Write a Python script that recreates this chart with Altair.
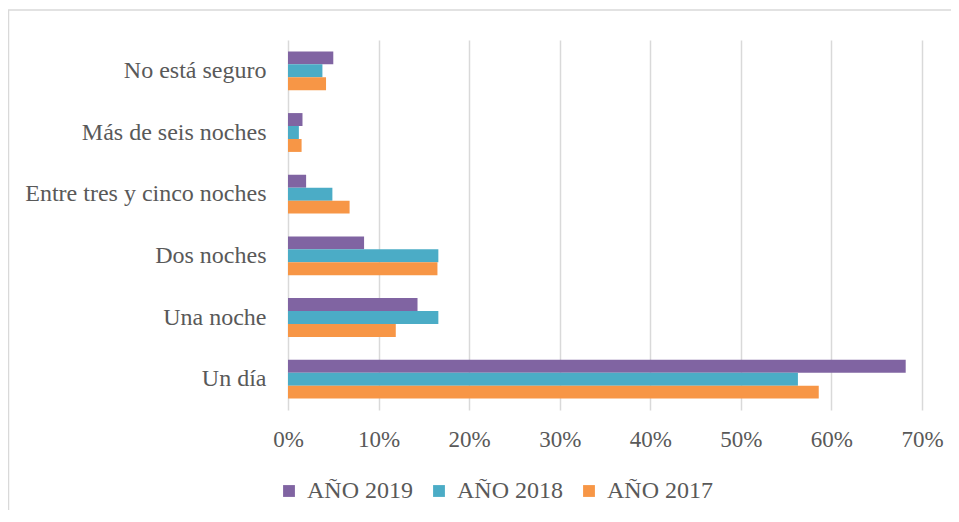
import altair as alt
import pandas as pd

categories = ["No está seguro", "Más de seis noches", "Entre tres y cinco noches",
              "Dos noches", "Una noche", "Un día"]
years = ["AÑO 2019", "AÑO 2018", "AÑO 2017"]
colors = ["#8064A2", "#4BACC6", "#F79646"]

v2019 = [0.050, 0.016, 0.020, 0.084, 0.143, 0.682]
v2018 = [0.038, 0.012, 0.049, 0.166, 0.166, 0.563]
v2017 = [0.042, 0.015, 0.068, 0.165, 0.119, 0.586]

x_ticks = [0, 0.1, 0.2, 0.3, 0.4, 0.5, 0.6, 0.7]

rows = []
for yr, vals in zip(years, [v2019, v2018, v2017]):
    for c, v in zip(categories, vals):
        rows.append({"cat": c, "year": yr, "value": v})
df = pd.DataFrame(rows)

W, H = 634, 370
FONT = "Liberation Serif"
TXT = "#595959"

bars = alt.Chart(df).mark_bar().encode(
    y=alt.Y("cat:N", sort=categories, title=None,
            scale=alt.Scale(paddingInner=0.37, paddingOuter=0.185),
            axis=alt.Axis(ticks=False, domain=False, labelPadding=22,
                          labelFont=FONT, labelFontSize=24, labelColor=TXT,
                          labelLimit=400)),
    yOffset=alt.YOffset("year:N", sort=years,
                        scale=alt.Scale(paddingInner=0, paddingOuter=0)),
    x=alt.X("value:Q", title=None,
            scale=alt.Scale(domain=[0, 0.7], nice=False),
            axis=alt.Axis(values=x_ticks, format=".0%", ticks=False, domain=False,
                          grid=True, gridColor="#d9d9d9", gridWidth=1.5,
                          labelFlush=False, labelOverlap=False,
                          labelPadding=18, labelFont=FONT, labelFontSize=23,
                          labelColor=TXT)),
    color=alt.Color("year:N", sort=years,
                    scale=alt.Scale(domain=years, range=colors),
                    legend=alt.Legend(title=None, orient="none", direction="horizontal",
                                      legendX=-11, legendY=439, padding=0,
                                      symbolType="square", symbolSize=140,
                                      symbolStrokeWidth=0, symbolOpacity=1,
                                      labelFont=FONT, labelFontSize=24,
                                      labelColor=TXT, labelOffset=6,
                                      columnPadding=14)),
)

border_v = alt.Chart(pd.DataFrame({"a": [0]})).mark_rule(
    color="#d9d9d9", strokeWidth=1.5).encode(
    x=alt.value(-279.5), y=alt.value(-30), y2=alt.value(H + 100))
border_h = alt.Chart(pd.DataFrame({"a": [0]})).mark_rule(
    color="#d9d9d9", strokeWidth=1.5).encode(
    x=alt.value(-280), x2=alt.value(W + 29), y=alt.value(-30))

chart = alt.layer(bars, border_v, border_h).properties(
    width=W, height=H,
    autosize=alt.AutoSizeParams(type="none"),
    padding={"left": 280, "top": 32, "right": 29, "bottom": 100},
).configure_view(stroke=None)

chart.save("out.html", embed_options={"renderer": "svg", "actions": False})
